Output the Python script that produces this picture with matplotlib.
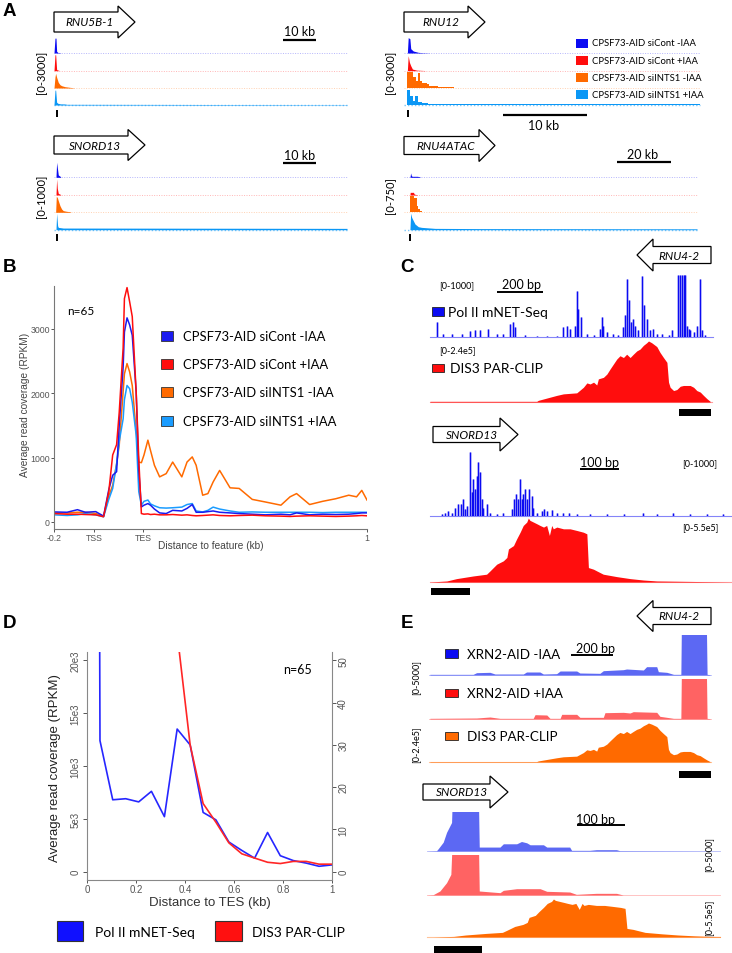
import matplotlib
matplotlib.use('Agg')
import matplotlib.pyplot as plt
from matplotlib.patches import Polygon, Rectangle
from matplotlib.lines import Line2D

plt.rcParams['font.family'] = ['Liberation Sans', 'DejaVu Sans']
LAT = ['Lato', 'DejaVu Sans']

# ======================= DATA =======================
# ---- Panel A (genome browser, kb from window start) ----
a_conditions = ['CPSF73-AID siCont -IAA', 'CPSF73-AID siCont +IAA',
                'CPSF73-AID siINTS1 -IAA', 'CPSF73-AID siINTS1 +IAA']
a_genes = ['RNU5B-1', 'RNU12', 'SNORD13', 'RNU4ATAC']
a_ranges = ['[0-3000]', '[0-3000]', '[0-1000]', '[0-750]']
a_max = [3000, 3000, 1000, 750]
a_span_kb = [88.8, 35.2, 88.8, 108.5]
a_gene_kb = [0.9, 0.48, 0.9, 2.2]
a_scale_labels = ['10 kb', '10 kb', '10 kb', '20 kb']

rnu5b1_blue_kb = [0, 0.3, 0.6, 0.8, 1.2, 2.0]
rnu5b1_blue = [0, 2700, 2700, 300, 80, 40]
rnu5b1_red_kb = [0, 0.3, 0.5, 0.8, 1.5]
rnu5b1_red = [0, 2900, 2900, 200, 50]
rnu5b1_orange_kb = [0, 0.3, 0.5, 0.8, 1.3, 1.8, 2.3, 3.3, 4.8, 6.0]
rnu5b1_orange = [0, 2000, 2670, 1940, 1030, 606, 424, 242, 121, 40]
rnu5b1_lblue_kb = [0, 0.3, 0.5, 0.8, 1.2, 2.0, 3.0, 4.0, 88.8]
rnu5b1_lblue = [0, 2700, 2700, 500, 300, 200, 200, 120, 60]

rnu12_blue_kb = [0, 0.4, 0.5, 0.7, 0.8, 1.1, 1.7, 2.2, 3.0]
rnu12_blue = [0, 0, 2790, 2600, 790, 364, 120, 60, 20]
rnu12_red_kb = [0, 0.4, 0.5, 0.65, 0.8, 1.0, 1.5, 2.5]
rnu12_red = [0, 0, 2730, 1500, 910, 300, 100, 30]
rnu12_orange_kb = [0, 0.40, 1.11, 1.39, 1.63, 1.90, 2.10, 2.70, 3.00, 4.10, 4.50, 6.00]
rnu12_orange = [0, 2850, 1940, 1330, 2670, 1330, 850, 727, 424, 240, 100, 30]
rnu12_lblue_kb = [0, 0.40, 0.71, 1.11, 1.31, 1.63, 2.10, 2.90, 5.00, 35.2]
rnu12_lblue = [0, 2730, 1700, 790, 1700, 485, 300, 150, 100, 60]

snord13_blue_kb = [0, 0.6, 0.8, 1.0, 1.3, 2.0]
snord13_blue = [0, 0, 909, 600, 141, 40]
snord13_red_kb = [0, 0.6, 0.8, 1.0, 1.3, 2.0]
snord13_red = [0, 0, 970, 400, 100, 30]
snord13_orange_kb = [0, 0.5, 0.7, 1.0, 1.3, 1.8, 2.3, 2.8, 3.8, 5.0]
snord13_orange = [0, 0, 970, 900, 707, 404, 202, 101, 60, 30]
snord13_lblue_kb = [0, 0.6, 0.8, 1.1, 1.3, 2.8, 88.8]
snord13_lblue = [0, 0, 1000, 240, 141, 100, 80]

rnu4atac_blue_kb = [0, 2.2, 2.47, 2.7, 3.0, 5.0, 6.0]
rnu4atac_blue = [0, 0, 197, 80, 45, 45, 15]
rnu4atac_red_kb = [0, 2.2, 2.3, 3.5, 3.8, 5.0]
rnu4atac_red = [0, 0, 121, 121, 40, 10]
rnu4atac_orange_kb = [0, 2.2, 3.82, 4.7, 5.3, 5.9, 6.5, 8.0]
rnu4atac_orange = [0, 750, 636, 303, 150, 75, 30, 0]
rnu4atac_lblue_kb = [0, 2.2, 2.47, 2.84, 3.45, 4.07, 5.3, 6.5, 11.5, 27.5, 108.5]
rnu4atac_lblue = [0, 0, 750, 560, 409, 258, 136, 106, 60, 50, 40]

# ---- Panel B (metagene) ----
b_pos = [0, 5, 9, 12, 16, 19, 21, 22.5, 24, 25, 26.5, 27, 28, 29, 30, 31.5, 32.5, 33.5,
         34.5, 36, 37, 38.5, 40.5, 43, 45.5, 49, 51, 53, 54.5, 57, 59, 61, 63.5, 67.5,
         71, 76, 81, 87, 90.5, 93, 98, 103, 108, 113, 116, 118, 120]
b_sicont_minus = [155, 150, 190, 150, 160, 90, 500, 725, 780, 1500, 2400, 2950, 3170, 3060,
                  2900, 2020, 800, 233, 260, 285, 260, 200, 140, 130, 180, 170, 210, 270,
                  150, 150, 160, 170, 150, 140, 130, 120, 110, 120, 110, 140, 110, 120,
                  115, 120, 130, 140, 140]
b_sicont_plus = [130, 120, 120, 115, 110, 80, 470, 1040, 1200, 1700, 2700, 3470, 3640, 3420,
                 3190, 2020, 980, 130, 120, 125, 115, 120, 110, 110, 115, 105, 110, 100, 95,
                 100, 105, 110, 100, 95, 100, 105, 95, 90, 85, 90, 95, 90, 85, 90, 95, 100, 95]
b_siints1_minus = [140, 140, 150, 150, 130, 90, 400, 570, 900, 1190, 2020, 2300, 2460, 2330,
                   2120, 1400, 930, 920, 1040, 1270, 1110, 880, 700, 750, 930, 700, 930, 1010,
                   880, 415, 440, 620, 800, 530, 520, 350, 310, 260, 390, 440, 270, 320, 360,
                   415, 390, 490, 340]
b_siints1_plus = [110, 100, 110, 130, 110, 80, 350, 520, 900, 1250, 1600, 1900, 2120, 2070,
                  1860, 1350, 470, 260, 320, 340, 280, 250, 220, 215, 220, 230, 270, 285,
                  170, 155, 180, 230, 200, 170, 150, 155, 150, 150, 150, 150, 150, 145, 150,
                  150, 150, 150, 150]
b_xtick_pos = [0, 15.3, 34.1, 120]
b_xtick_labels = ['-0.2', 'TSS', 'TES', '1']
b_yticks = [0, 1000, 2000, 3000]

# ---- Panel C / E (bp from window start; values per track range) ----
c_pol_rnu4_bp = [29, 58, 94, 138, 174, 196, 218, 254, 290, 319, 348, 360, 370, 413, 464, 508,
                 551, 580, 595, 609, 631, 638, 645, 655, 682, 711, 737, 747, 754, 769, 795,
                 819, 841, 848, 858, 867, 873, 882, 892, 906, 921, 928, 943, 957, 971, 986,
                 1008, 1037, 1051, 1080, 1088, 1095, 1102, 1109, 1117, 1124, 1131, 1146, 1160,
                 1175, 1182, 1196]
c_pol_rnu4_val = [240, 55, 55, 55, 90, 105, 105, 135, 55, 55, 215, 240, 160, 25, 20, 15, 20,
                  160, 185, 135, 185, 750, 455, 320, 55, 25, 135, 320, 185, 80, 55, 25, 160,
                  350, 935, 590, 240, 295, 185, 105, 990, 510, 295, 105, 135, 55, 55, 25, 105,
                  1000, 1000, 1000, 1000, 1000, 185, 135, 105, 80, 185, 935, 105, 25]
dis3_rnu4_bp = [0, 464, 471, 551, 580, 638, 667, 682, 696, 711, 725, 732, 754, 769, 783, 812,
                826, 841, 855, 870, 884, 899, 913, 928, 942, 950, 964, 986, 1000, 1015, 1030,
                1037, 1044, 1059, 1073, 1088, 1102, 1131, 1146, 1160, 1175, 1189, 1204, 1218]
dis3_rnu4_val = [2.6, 2.6, 6.5, 26, 32, 36, 58, 75, 71, 78, 67, 91, 97, 110, 130, 169, 182,
                 175, 188, 175, 188, 201, 208, 223, 233, 240, 233, 218, 195, 175, 156, 78, 58,
                 45, 49, 62, 65, 65, 58, 45, 39, 26, 13, 2.6]
c_pol_snord13_bp = [30, 38, 47, 56, 64, 73, 79, 84, 90, 96, 103, 107, 111, 115, 120, 124, 128,
                    133, 137, 145, 154, 171, 188, 209, 215, 220, 226, 231, 235, 239, 244, 248,
                    255, 261, 265, 274, 286, 292, 299, 312, 325, 342, 355, 376, 410, 453, 496,
                    547, 581, 624, 667, 709, 752]
c_pol_snord13_val = [26, 53, 79, 53, 132, 184, 184, 263, 105, 158, 1000, 368, 579, 421, 632,
                     842, 684, 263, 132, 184, 53, 26, 53, 105, 263, 342, 263, 579, 263, 342,
                     421, 263, 421, 316, 132, 53, 79, 105, 79, 95, 53, 42, 53, 26, 32, 26, 26,
                     42, 26, 53, 26, 26, 32]
dis3_snord13_bp = [0, 43, 68, 111, 145, 154, 171, 188, 197, 201, 214, 222, 231, 239, 248, 252,
                   256, 265, 274, 282, 291, 299, 306, 312, 316, 325, 342, 359, 376, 393, 402,
                   406, 419, 427, 444, 479, 513, 547, 581, 774]
dis3_snord13_val = [0, 8.7, 29, 52, 67, 96, 153, 182, 211, 284, 313, 370, 428, 486, 515, 550,
                    530, 515, 500, 486, 472, 486, 400, 486, 457, 472, 457, 457, 443, 428, 414,
                    124, 110, 96, 67, 46, 29, 17, 9, 0]
xrn2_minus_rnu4_bp = [0, 188, 203, 261, 283, 406, 420, 478, 493, 551, 566, 638, 652, 739, 754,
                      841, 855, 928, 942, 986, 993, 1030, 1059, 1091, 1094, 1201, 1205, 1218]
xrn2_minus_rnu4_val = [83, 83, 290, 333, 125, 125, 375, 375, 125, 166, 500, 500, 250, 208, 540,
                       666, 750, 625, 1040, 1040, 416, 333, 83, 83, 8000, 8000, 83, 40]
xrn2_plus_rnu4_bp = [0, 203, 261, 304, 449, 457, 508, 522, 566, 573, 638, 652, 754, 761, 841,
                     870, 884, 986, 1000, 1030, 1059, 1091, 1094, 1201, 1205, 1218]
xrn2_plus_rnu4_val = [83, 125, 250, 83, 83, 540, 500, 83, 83, 583, 583, 208, 208, 790, 833,
                      750, 916, 833, 333, 208, 83, 83, 8000, 8000, 83, 40]
xrn2_minus_snord13_bp = [-14, 7, 10.5, 21, 28, 35, 38.5, 40.6, 94.4, 96.5, 140, 147, 175, 185,
                         196, 203, 231, 238, 286, 290, 328, 342, 384, 391, 601]
xrn2_minus_snord13_val = [0, 42, 294, 1134, 2395, 3235, 3655, 8000, 8000, 504, 504, 924, 924,
                          1218, 1050, 798, 798, 504, 504, 84, 84, 168, 168, 42, 0]
xrn2_plus_snord13_bp = [-14, 0, 14, 28, 37, 40.6, 94.4, 96.5, 140, 147, 175, 224, 238, 286,
                        300, 342, 384, 398, 601]
xrn2_plus_snord13_val = [0, 42, 500, 1540, 2580, 8000, 8000, 500, 290, 583, 790, 790, 460, 375,
                         83, 208, 208, 0, 0]
rnu4_2_gene_bp = [1083, 1222]
snord13_gene_bp = [2, 102]

# ---- Panel D ----
d_dist_kb = [0, 0.053, 0.105, 0.158, 0.211, 0.263, 0.316, 0.368, 0.421, 0.474, 0.526, 0.579,
             0.632, 0.684, 0.737, 0.789, 0.842, 0.895, 0.947, 1.0]
d_polII = [400000, 12400, 6800, 6900, 6600, 7600, 5200, 13500, 12000, 5600, 4900, 2800, 2000,
           1270, 3700, 1500, 1040, 800, 500, 630]
d_dis3 = [900, 600, 400, 300, 200, 120, 90, 56.4, 30, 16.1, 11.7, 6.8, 4.2, 3.2, 2.2, 1.9,
          2.4, 2.4, 1.75, 1.75]
d_xticks = [0, 0.2, 0.4, 0.6, 0.8, 1]
d_xtick_labels = ['0', '0.2', '0.4', '0.6', '0.8', '1']
d_yticks = [0, 5000, 10000, 15000, 20000]
d_ytick_labels = ['0', '5e3', '10e3', '15e3', '20e3']
d_y2ticks = [0, 10, 20, 30, 40, 50]

# ======================= DRAWING =======================
W, H = 732, 954
fig = plt.figure(figsize=(W / 100, H / 100), dpi=100)

BLUE, RED, ORANGE, LBLUE = '#0b0bf2', '#ff0d0d', '#ff6a00', '#0b97f5'
A_COLORS = [BLUE, RED, ORANGE, LBLUE]


def axpx(x0, y0, x1, y1):
    return fig.add_axes([x0 / W, 1 - y1 / H, (x1 - x0) / W, (y1 - y0) / H])


def ftext(x, y, s, **kw):
    kw.setdefault('ha', 'center')
    kw.setdefault('va', 'center')
    fig.text(x / W, 1 - y / H, s, **kw)


def fline(x0, y0, x1, y1, lw=1.6, color='black'):
    fig.add_artist(Line2D([x0 / W, x1 / W], [1 - y0 / H, 1 - y1 / H], lw=lw, color=color,
                          transform=fig.transFigure, solid_capstyle='butt'))


def frect(x0, y0, x1, y1, fc, ec='#222222', lw=0.6):
    fig.add_artist(Rectangle((x0 / W, 1 - y1 / H), (x1 - x0) / W, (y1 - y0) / H, fc=fc,
                             ec=ec, lw=lw, transform=fig.transFigure))


def block_arrow(x_tail, x_tip, yc, bh, hh, hl, label, tx, fs=8.5):
    d = 1 if x_tip > x_tail else -1
    xb = x_tip - d * hl
    pts = [(x_tail, yc - bh / 2), (xb, yc - bh / 2), (xb, yc - hh / 2), (x_tip, yc),
           (xb, yc + hh / 2), (xb, yc + bh / 2), (x_tail, yc + bh / 2)]
    pts = [(x / W, 1 - y / H) for x, y in pts]
    fig.add_artist(Polygon(pts, closed=True, fc='white', ec='black', lw=0.9,
                           transform=fig.transFigure))
    ftext(tx, yc, label, style='italic', fontsize=fs, family=LAT)


def fill_track(box, xs, vs, xlim, vmax, color, step=False, alpha=1.0,
               base_alpha=0.35, base_lw=0.6, base_ls=(0, (1, 1.5))):
    ax = axpx(*box)
    ax.fill_between(xs, vs, 0, color=color, lw=0, alpha=alpha,
                    step='post' if step else None)
    ax.axhline(0, color=color, lw=base_lw, alpha=base_alpha, ls=base_ls, clip_on=False)
    ax.set_xlim(*xlim)
    ax.set_ylim(0, vmax)
    ax.axis('off')
    return ax


def spike_track(box, xs, vs, xlim, vmax, color):
    ax = axpx(*box)
    ax.vlines(xs, 0, vs, color=color, lw=1.8, alpha=0.35)
    ax.vlines(xs, 0, vs, color=color, lw=0.8, alpha=1.0)
    ax.axhline(0, color=color, lw=0.8, alpha=0.5, clip_on=False)
    ax.set_xlim(*xlim)
    ax.set_ylim(0, vmax)
    ax.axis('off')
    return ax


def gene_bar(box, gene, xlim):
    ax = axpx(*box)
    ax.fill_between(gene, 0, 1, color='black', lw=0)
    ax.set_xlim(*xlim)
    ax.set_ylim(0, 1)
    ax.axis('off')


# ---------------- Panel labels ----------------
for lab, x, y in [('A', 9, 12), ('B', 10, 268), ('C', 407, 268), ('D', 10, 624), ('E', 407, 624)]:
    ftext(x, y, lab, fontsize=13.5, fontweight='bold')

# ---------------- Panel A ----------------
a_tracks = [
    [(rnu5b1_blue_kb, rnu5b1_blue, False), (rnu5b1_red_kb, rnu5b1_red, False),
     (rnu5b1_orange_kb, rnu5b1_orange, False), (rnu5b1_lblue_kb, rnu5b1_lblue, False)],
    [(rnu12_blue_kb, rnu12_blue, False), (rnu12_red_kb, rnu12_red, False),
     (rnu12_orange_kb, rnu12_orange, True), (rnu12_lblue_kb, rnu12_lblue, True)],
    [(snord13_blue_kb, snord13_blue, False), (snord13_red_kb, snord13_red, False),
     (snord13_orange_kb, snord13_orange, False), (snord13_lblue_kb, snord13_lblue, False)],
    [(rnu4atac_blue_kb, rnu4atac_blue, False), (rnu4atac_red_kb, rnu4atac_red, False),
     (rnu4atac_orange_kb, rnu4atac_orange, True), (rnu4atac_lblue_kb, rnu4atac_lblue, False)],
]
a_x = [(54, 347), (404, 700), (54, 347), (404, 697)]
a_bases = [[54, 71.7, 89, 106], [54, 71.7, 89, 106],
           [178.3, 196, 213.3, 230.7], [178.3, 196, 213.3, 230.7]]
a_range_pos = [(42, 72), (391, 72), (42, 196), (391, 196)]
a_tick_y = [(111, 118), (111, 118), (235, 242), (235, 242)]

for i in range(4):
    x0, x1 = a_x[i]
    for j, (kb, val, st) in enumerate(a_tracks[i]):
        yb = a_bases[i][j]
        lw = 1.0 if j == 3 else 0.7
        al = 0.55 if j == 3 else 0.3
        fill_track((x0, yb - 16.5, x1, yb), kb, val, (0, a_span_kb[i]), a_max[i],
                   A_COLORS[j], step=st, base_alpha=al, base_lw=lw)
    ftext(*a_range_pos[i], a_ranges[i], rotation=90, fontsize=8, family=LAT)
    t0, t1 = a_tick_y[i]
    axg = axpx(x0, t0, x1, t1)
    axg.vlines([a_gene_kb[i]], 0, 1, color='black', lw=1.4)
    axg.set_xlim(0, a_span_kb[i]); axg.set_ylim(0, 1); axg.axis('off')

block_arrow(54, 135, 23, 20, 32, 17, 'RNU5B-1', 90)
block_arrow(404, 485, 23, 20, 32, 17, 'RNU12', 441)
block_arrow(54, 145, 146, 18, 31, 17, 'SNORD13', 95)
block_arrow(404, 495, 146.5, 18, 32, 16, 'RNU4ATAC', 446)

# scale bars panel A
fline(283, 41, 316, 41); ftext(300, 32, a_scale_labels[0], fontsize=9, family=LAT)
fline(283, 164, 316, 164); ftext(300, 156, a_scale_labels[2], fontsize=9, family=LAT)
fline(503, 116, 587, 116); ftext(544, 126, a_scale_labels[1], fontsize=9, family=LAT)
fline(617, 163, 671, 163); ftext(643, 155, a_scale_labels[3], fontsize=9, family=LAT)

# legend panel A
for j, yc in enumerate([44, 61, 78.5, 95]):
    frect(576, yc - 4.5, 588, yc + 4.5, A_COLORS[j], ec='none')
    ftext(592, yc, a_conditions[j], ha='left', fontsize=6.8, family=LAT)

# ---------------- Panel B ----------------
axB = axpx(54, 287, 367, 530)
axB.plot(b_pos, b_siints1_minus, color=ORANGE, lw=1.1)
axB.plot(b_pos, b_siints1_plus, color='#1a9cff', lw=1.1)
axB.plot(b_pos, b_sicont_minus, color='#1b1bf0', lw=1.1)
axB.plot(b_pos, b_sicont_plus, color=RED, lw=1.1)
axB.set_xlim(0, 120)
axB.set_ylim(-110, 3665)
axB.set_xticks(b_xtick_pos)
axB.set_xticklabels(b_xtick_labels)
axB.set_yticks(b_yticks)
for s in ['top', 'right']:
    axB.spines[s].set_visible(False)
for s in ['left', 'bottom']:
    axB.spines[s].set_color('#777777')
    axB.spines[s].set_linewidth(0.8)
axB.tick_params(labelsize=6.3, colors='#555555', length=2.0, width=0.7, pad=1.0)
ftext(25, 405, 'Average read coverage (RPKM)', rotation=90, fontsize=7.3, color='#444444')
ftext(211, 546, 'Distance to feature (kb)', fontsize=7.3, color='#444444')
ftext(67, 312, 'n=65', ha='left', fontsize=8.5, family=LAT)
b_leg_colors = ['#1b1bf0', RED, ORANGE, '#1a9cff']
for j, yc in enumerate([336.7, 365, 393.3, 421.7]):
    frect(161, yc - 5, 173, yc + 5, b_leg_colors[j], ec='#333333', lw=0.6)
    ftext(183, yc, a_conditions[j], ha='left', fontsize=9.4, family=LAT)

# ---------------- Panel C ----------------
block_arrow(711, 637, 256, 17, 32, 16, 'RNU4-2', 679)
spike_track((430, 276, 713, 338), c_pol_rnu4_bp, c_pol_rnu4_val, (0, 1230), 1000, BLUE)
fill_track((430, 342, 712, 403), dis3_rnu4_bp, dis3_rnu4_val, (0, 1226), 240, RED,
           base_alpha=0.4, base_lw=0.8, base_ls='-')
gene_bar((430, 410, 712, 417), rnu4_2_gene_bp, (0, 1226))
ftext(439, 286, '[0-1000]', ha='left', fontsize=6.5, family=LAT)
fline(497, 293, 543, 293, lw=1.4); ftext(521, 285, '200 bp', fontsize=9, family=LAT)
frect(432, 308, 444, 317, BLUE, ec='#222222')
ftext(448, 313, 'Pol II mNET-Seq', ha='left', fontsize=10, family=LAT)
ftext(439, 351, '[0-2.4e5]', ha='left', fontsize=6.5, family=LAT)
frect(432, 365, 444, 373, RED, ec='#222222')
ftext(450, 369, 'DIS3 PAR-CLIP', ha='left', fontsize=10, family=LAT)

block_arrow(433, 518, 435.5, 16, 33, 18, 'SNORD13', 472)
spike_track((430, 453, 732, 517), c_pol_snord13_bp, c_pol_snord13_val, (0, 774), 1000, BLUE)
fill_track((430, 519, 732, 583), dis3_snord13_bp, dis3_snord13_val, (0, 774), 550, RED,
           base_alpha=0.4, base_lw=0.8, base_ls='-')
gene_bar((430, 589, 732, 596), snord13_gene_bp, (0, 774))
fline(580, 470, 619, 470, lw=1.4); ftext(599, 463, '100 bp', fontsize=9, family=LAT)
ftext(682, 464, '[0-1000]', ha='left', fontsize=6.5, family=LAT)
ftext(682, 528, '[0-5.5e5]', ha='left', fontsize=6.5, family=LAT)

# ---------------- Panel D ----------------
axD = axpx(87, 653, 332, 881)
axD.plot(d_dist_kb, d_polII, color='#2626ff', lw=1.2)
axD.set_xlim(0, 1)
axD.set_ylim(-800, 20800)
axD.set_xticks(d_xticks)
axD.set_xticklabels(d_xtick_labels)
axD.set_yticks(d_yticks)
axD.set_yticklabels(d_ytick_labels, rotation=90, va='center')
axD2 = axD.twinx()
axD2.plot(d_dist_kb, d_dis3, color='#ff2626', lw=1.2)
axD2.set_ylim(-2, 52)
axD2.set_yticks(d_y2ticks)
axD2.set_yticklabels([str(v) for v in d_y2ticks], rotation=90, va='center')
for a in (axD, axD2):
    a.spines['top'].set_visible(False)
    for s in ['left', 'right', 'bottom']:
        a.spines[s].set_color('#888888')
        a.spines[s].set_linewidth(0.8)
    a.tick_params(labelsize=7, colors='#555555', length=3, width=0.7, pad=1.5)
axD.tick_params(axis='x', pad=0.5, length=2.5)
axD.spines['right'].set_visible(False)
axD2.spines['left'].set_visible(False)
axD2.spines['bottom'].set_visible(False)
ftext(55, 768, 'Average read coverage (RPKM)', rotation=90, fontsize=9.5, color='#222222')
ftext(210, 903, 'Distance to TES (kb)', fontsize=9.5, color='#333333')
ftext(298, 670, 'n=65', fontsize=9, family=LAT)
frect(57, 922, 83, 942, '#1010ff', ec='#333333', lw=0.8)
ftext(95, 933, 'Pol II mNET-Seq', ha='left', fontsize=10, family=LAT)
frect(215, 922, 242, 942, '#ff1010', ec='#333333', lw=0.8)
ftext(252, 933, 'DIS3 PAR-CLIP', ha='left', fontsize=10, family=LAT)

# ---------------- Panel E ----------------
XB, XR = '#4a58f2', '#ff5252'
block_arrow(711, 637, 617, 17, 31, 16, 'RNU4-2', 679)
fill_track((429, 636, 711, 676), xrn2_minus_rnu4_bp, xrn2_minus_rnu4_val, (-4, 1222), 5000,
           XB, alpha=0.9, base_alpha=0.4, base_ls='-')
fill_track((429, 680, 711, 720), xrn2_plus_rnu4_bp, xrn2_plus_rnu4_val, (-4, 1222), 5000,
           XR, alpha=0.9, base_alpha=0.4, base_ls='-')
fill_track((429, 724, 711, 763), dis3_rnu4_bp, dis3_rnu4_val, (-4, 1222), 240, ORANGE,
           base_alpha=0.4, base_lw=0.8, base_ls='-')
gene_bar((429, 772, 711, 779), rnu4_2_gene_bp, (-4, 1222))
ftext(416, 678, '[0-5000]', rotation=90, fontsize=6.5, family=LAT)
ftext(416, 745, '[0-2.4e5]', rotation=90, fontsize=6.5, family=LAT)
fline(571, 656, 613, 656, lw=1.4); ftext(595, 649, '200 bp', fontsize=9, family=LAT)
frect(445, 650, 458, 659, BLUE, ec='#222222')
ftext(467, 655, 'XRN2-AID -IAA', ha='left', fontsize=9.6, family=LAT)
frect(445, 690, 458, 698, RED, ec='#222222')
ftext(467, 694, 'XRN2-AID +IAA', ha='left', fontsize=9.6, family=LAT)
frect(445, 733, 458, 741, ORANGE, ec='#222222')
ftext(467, 737, 'DIS3 PAR-CLIP', ha='left', fontsize=9.6, family=LAT)

block_arrow(423, 508, 793, 16, 32, 18, 'SNORD13', 462)
fill_track((427, 813, 720, 852), xrn2_minus_snord13_bp, xrn2_minus_snord13_val, (-13, 601),
           5000, XB, alpha=0.9, base_alpha=0.4, base_ls='-')
fill_track((427, 856, 720, 896), xrn2_plus_snord13_bp, xrn2_plus_snord13_val, (-13, 601),
           5000, XR, alpha=0.9, base_alpha=0.4, base_ls='-')
fill_track((427, 900, 720, 938), dis3_snord13_bp, dis3_snord13_val, (-13, 601), 550, ORANGE,
           base_alpha=0.4, base_lw=0.8, base_ls='-')
gene_bar((427, 947, 720, 954), snord13_gene_bp, (-13, 601))
fline(577, 826, 625, 826, lw=1.4); ftext(596, 820, '100 bp', fontsize=9, family=LAT)
ftext(709, 855, '[0-5000]', rotation=90, fontsize=6.5, family=LAT)
ftext(709, 918, '[0-5.5e5]', rotation=90, fontsize=6.5, family=LAT)

fig.savefig('out.png', dpi=100)
